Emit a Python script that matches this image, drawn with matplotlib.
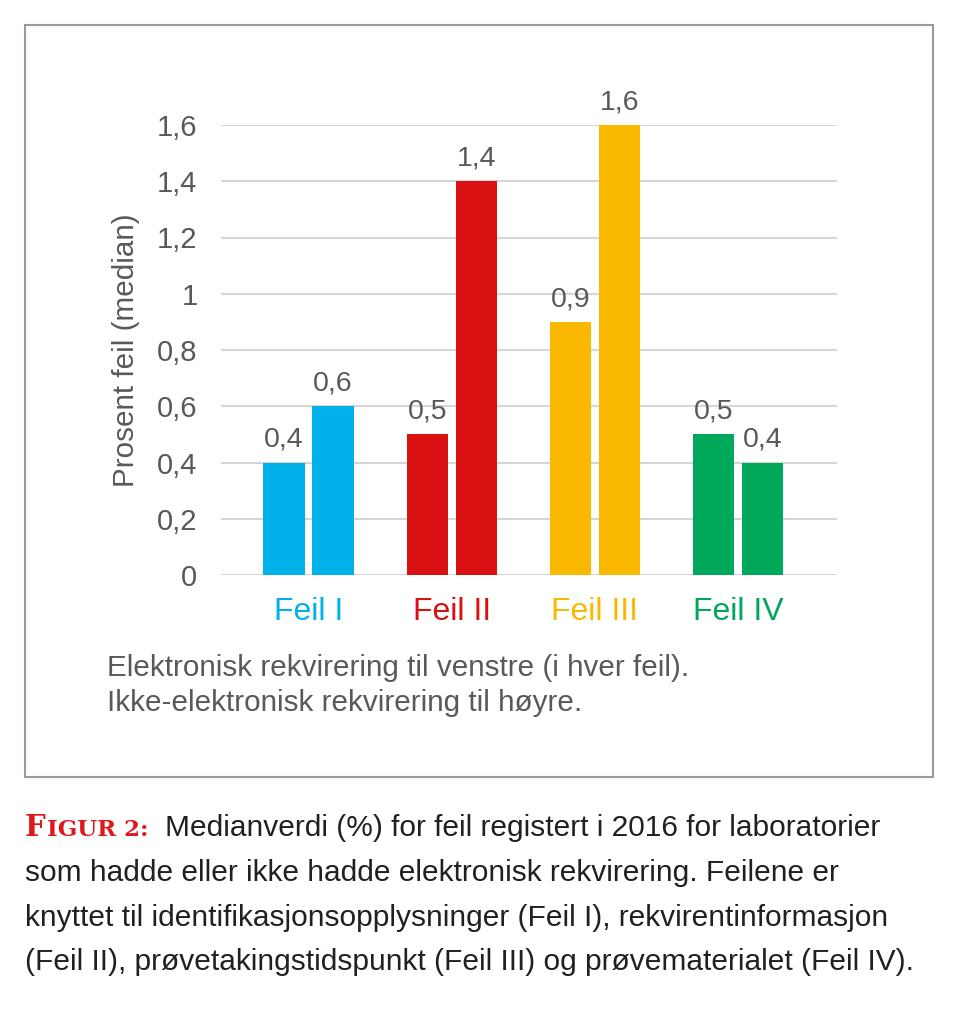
import matplotlib
matplotlib.use("Agg")
import matplotlib.pyplot as plt
from matplotlib.patches import Rectangle

categories = ["Feil I", "Feil II", "Feil III", "Feil IV"]
electronic = [0.4, 0.5, 0.9, 0.5]
non_electronic = [0.6, 1.4, 1.6, 0.4]
value_labels_left = ["0,4", "0,5", "0,9", "0,5"]
value_labels_right = ["0,6", "1,4", "1,6", "0,4"]
yticks = [0, 0.2, 0.4, 0.6, 0.8, 1.0, 1.2, 1.4, 1.6]
ytick_labels = ["0", "0,2", "0,4", "0,6", "0,8", "1", "1,2", "1,4", "1,6"]
colors = ["#00B2E9", "#D91113", "#FAB900", "#00A859"]

plt.rcParams["font.family"] = ["Liberation Sans", "DejaVu Sans"]

W, H = 960, 1014
fig = plt.figure(figsize=(W / 100, H / 100), dpi=100)

def fx(px):
    return px / W

def fy(py):
    return 1 - py / H

# frame box
fig.patches.append(Rectangle((fx(25), fy(777)), fx(933) - fx(25), fy(25) - fy(777),
                             transform=fig.transFigure, fill=False,
                             edgecolor="#9B9B9B", linewidth=1.5))

ax = fig.add_axes([fx(221), fy(575), fx(837) - fx(221), fy(125) - fy(575)])
ax.set_xlim(-0.611, 3.69)
ax.set_ylim(0, 1.6)

bw = 0.287
off = 0.171
xs = list(range(len(categories)))
gray = "#595959"
for i in xs:
    ax.bar(i - off, electronic[i], width=bw, color=colors[i], zorder=3)
    ax.bar(i + off, non_electronic[i], width=bw, color=colors[i], zorder=3)
    ax.text(i - off, electronic[i] + 0.035, value_labels_left[i], ha="center", va="bottom",
            fontsize=20.5, color=gray, clip_on=False)
    ax.text(i + off, non_electronic[i] + 0.035, value_labels_right[i], ha="center", va="bottom",
            fontsize=20.5, color=gray, clip_on=False)

ax.set_yticks(yticks)
ax.set_yticklabels(ytick_labels, fontsize=21, color=gray)
ax.tick_params(axis="y", length=0, pad=17)
ax.set_xticks(xs)
ax.set_xticklabels(categories, fontsize=23)
for lbl, c in zip(ax.get_xticklabels(), colors):
    lbl.set_color(c)
ax.tick_params(axis="x", length=0, pad=16)
ax.grid(axis="y", color="#D6D6D6", linewidth=1.5, zorder=0)
for s in ax.spines.values():
    s.set_visible(False)
ax.set_ylabel("Prosent feil (median)", fontsize=21.3, color=gray, labelpad=12)

fig.text(fx(107), fy(668), "Elektronisk rekvirering til venstre (i hver feil).",
         fontsize=21.3, color=gray, va="center", ha="left")
fig.text(fx(107), fy(703), "Ikke-elektronisk rekvirering til høyre.",
         fontsize=21.3, color=gray, va="center", ha="left")

# caption
red = "#E0161B"
cap_color = "#231F20"
fig.text(fx(25), fy(828), "F", fontsize=21, color=red, fontweight="bold",
         family=["DejaVu Serif"], va="center", ha="left")
fig.text(fx(47), fy(829.5), "IGUR 2:", fontsize=16.5, color=red, fontweight="bold",
         family=["DejaVu Serif"], va="center", ha="left")
fig.text(fx(165), fy(828), "Medianverdi (%) for feil registert i 2016 for laboratorier",
         fontsize=21.5, color=cap_color, va="center", ha="left")
cap_lines = [
    "som hadde eller ikke hadde elektronisk rekvirering. Feilene er",
    "knyttet til identifikasjonsopplysninger (Feil I), rekvirentinformasjon",
    "(Feil II), prøvetakingstidspunkt (Feil III) og prøvematerialet (Feil IV).",
]
for k, line in enumerate(cap_lines):
    fig.text(fx(25), fy(873 + 44.5 * k), line, fontsize=21.5, color=cap_color,
             va="center", ha="left")

fig.savefig("out.png", dpi=100)
